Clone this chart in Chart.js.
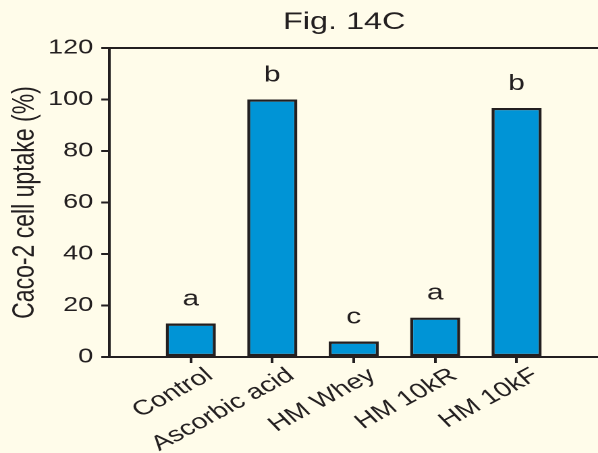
<!DOCTYPE html>
<html>
<head>
<meta charset="utf-8">
<script src="https://cdn.jsdelivr.net/npm/chart.js@4.4.1/dist/chart.umd.min.js"></script>
<style>
  html, body { margin: 0; padding: 0; background: #fffcea; overflow: hidden; }
  /* The figure is drawn narrow and widened horizontally, giving its wide lettering */
  #wrap { width: 443px; height: 453px; transform: scaleX(1.35); transform-origin: 0 0; }
</style>
</head>
<body>
<div id="wrap"><canvas id="chart"></canvas></div>
<script>
const categories = ['Control', 'Ascorbic acid', 'HM Whey', 'HM 10kR', 'HM 10kF'];
const uptake = [13, 100, 6, 15.3, 96.7];
const groupLetters = ['a', 'b', 'c', 'a', 'b'];
const yMin = 0, yMax = 120, yStep = 20;
const figTitle = 'Fig. 14C';
const yTitle = 'Caco-2 cell uptake (%)';

const INK = '#231f20';
const BAR = '#0094d6';
const FONT = 'Liberation Sans, Arial, Helvetica, sans-serif';

// An empty slot on each side keeps the bars away from the frame edges
const slotLabels = [''].concat(categories, ['']);
const slotValues = [null].concat(uptake, [null]);

const frameAndLabels = {
  id: 'frameAndLabels',
  afterDatasetsDraw(chart) {
    const { ctx } = chart;
    const meta = chart.getDatasetMeta(0);
    ctx.save();
    ctx.fillStyle = INK;
    ctx.font = '22px ' + FONT;
    ctx.textAlign = 'center';
    ctx.textBaseline = 'alphabetic';
    meta.data.forEach((bar, i) => {
      const letter = groupLetters[i - 1];
      if (letter && slotValues[i] !== null) {
        ctx.fillText(letter, bar.x, bar.y - 18);
      }
    });
    ctx.restore();
  },
  afterDraw(chart) {
    const { ctx, chartArea } = chart;
    ctx.save();
    // top frame line
    ctx.strokeStyle = INK;
    ctx.lineWidth = 2;
    ctx.beginPath();
    ctx.moveTo(chartArea.left, chartArea.top);
    ctx.lineTo(chartArea.right, chartArea.top);
    ctx.stroke();
    // figure title
    ctx.fillStyle = INK;
    ctx.font = '24px ' + FONT;
    ctx.textAlign = 'center';
    ctx.textBaseline = 'alphabetic';
    ctx.fillText(figTitle, (chartArea.left + chartArea.right) / 2 - 7, 29);
    ctx.restore();
  }
};

new Chart(document.getElementById('chart'), {
  type: 'bar',
  data: {
    labels: slotLabels,
    datasets: [{
      data: slotValues,
      backgroundColor: BAR,
      borderColor: INK,
      borderWidth: 2.3,
      borderSkipped: false,
      barPercentage: 0.615,
      categoryPercentage: 1
    }]
  },
  options: {
    responsive: true,
    maintainAspectRatio: false,
    animation: false,
    devicePixelRatio: 2,
    layout: { padding: { top: 48, right: 0, bottom: 0, left: 0 } },
    plugins: {
      legend: { display: false },
      title: { display: false },
      tooltip: { enabled: false }
    },
    scales: {
      x: {
        type: 'category',
        offset: false,
        grid: {
          offset: false,
          drawOnChartArea: false,
          drawTicks: true,
          tickLength: 6,
          lineWidth: 2,
          color: (c) => (c.index === 0 || c.index === slotLabels.length - 1) ? 'rgba(0,0,0,0)' : INK
        },
        border: { display: true, color: INK, width: 2 },
        ticks: {
          autoSkip: false,
          minRotation: 36,
          maxRotation: 36,
          padding: 0,
          labelOffset: 14,
          color: INK,
          font: { family: FONT, size: 21 }
        },
        afterFit(scale) {
          scale.height = 96;
          scale.paddingLeft = 0;
          scale.paddingRight = 0;
        }
      },
      y: {
        min: yMin,
        max: yMax,
        grid: {
          drawOnChartArea: false,
          drawTicks: true,
          tickLength: 6,
          lineWidth: 2,
          color: INK
        },
        border: { display: true, color: INK, width: 2 },
        ticks: {
          stepSize: yStep,
          padding: 6,
          color: INK,
          font: { family: FONT, size: 20 }
        },
        title: {
          display: true,
          text: yTitle,
          color: INK,
          padding: { top: 5, bottom: 0 },
          font: { family: FONT, size: 23 }
        },
        afterFit(scale) { scale.width = 81; }
      }
    }
  },
  plugins: [frameAndLabels]
});
</script>
</body>
</html>
